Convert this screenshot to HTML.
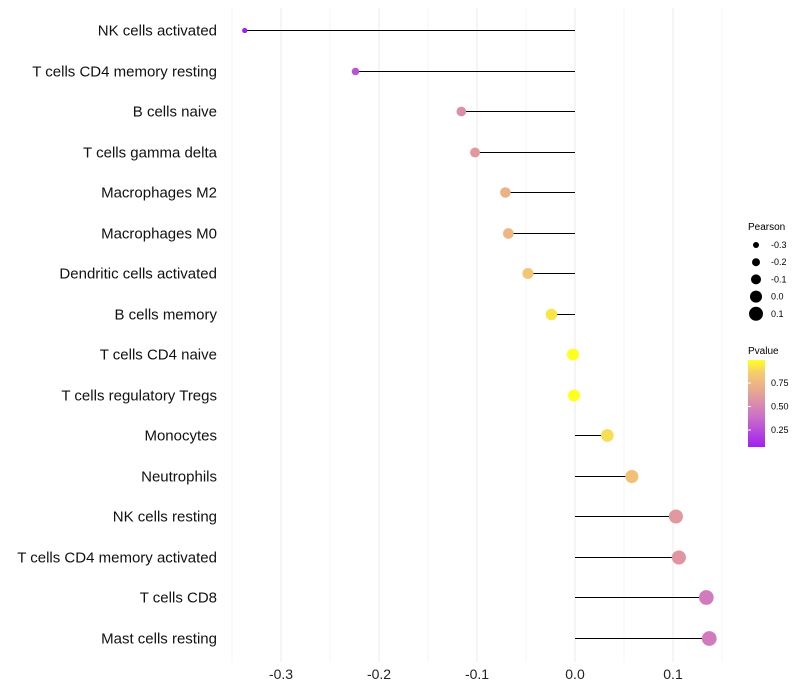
<!DOCTYPE html>
<html><head><meta charset="utf-8"><style>
body{margin:0;background:#fff;}
svg{display:block;font-family:"Liberation Sans",sans-serif;}
</style></head><body>
<svg id="c" width="800" height="700">
<defs><linearGradient id="pg" x1="0" y1="1" x2="0" y2="0">
<stop offset="0" stop-color="#A020F0"/><stop offset="0.35" stop-color="#CC70C8"/><stop offset="0.65" stop-color="#E8A890"/><stop offset="0.85" stop-color="#F5CC70"/><stop offset="1" stop-color="#FFFF20"/></linearGradient></defs>
<g id="grid"></g><g id="marks"></g><g id="axis"></g>
<g font-size="9">
<text x="748" y="230" font-size="10">Pearson</text>
<g id="sizeleg"></g>
</g>
<g font-size="9">
<text x="748" y="354" font-size="10">Pvalue</text>
<rect x="748" y="360" width="17" height="87" fill="url(#pg)"/>
<g id="colleg"></g>
</g>
</svg>
<script>
const categories=["NK cells activated","T cells CD4 memory resting","B cells naive","T cells gamma delta","Macrophages M2","Macrophages M0","Dendritic cells activated","B cells memory","T cells CD4 naive","T cells regulatory  Tregs ","Monocytes","Neutrophils","NK cells resting","T cells CD4 memory activated","T cells CD8","Mast cells resting"];
const pearson=[-0.337,-0.224,-0.116,-0.102,-0.071,-0.068,-0.048,-0.024,-0.002,-0.001,0.033,0.058,0.103,0.106,0.134,0.137];
const pvalue=[0.05,0.28,0.55,0.6,0.72,0.74,0.82,0.92,0.99,0.99,0.9,0.8,0.6,0.58,0.45,0.45];
const xTicks=[-0.3,-0.2,-0.1,0.0,0.1];
const xTickLabels=["-0.3","-0.2","-0.1","0.0","0.1"];
const sizeLegend=[-0.3,-0.2,-0.1,0.0,0.1];
const sizeLegendLabels=["-0.3","-0.2","-0.1","0.0","0.1"];
const colorLegend=[0.25,0.5,0.75];
const colorLegendLabels=["0.25","0.50","0.75"];
const NS="http://www.w3.org/2000/svg";
const x=v=>575+v*980;
const y=i=>Math.round(30+i*40.5)+0.5;
const r=v=>Math.max(2,3+(v+0.3)*10);
const stops=[[0,[160,32,240]],[0.35,[204,112,200]],[0.65,[232,168,144]],[0.85,[245,204,112]],[1,[255,255,32]]];
function col(p){const t=(p-0.08)/(0.99-0.08);const tt=Math.max(0,Math.min(1,t));
for(let k=1;k<stops.length;k++){if(tt<=stops[k][0]){const a=stops[k-1],b=stops[k];const f=(tt-a[0])/(b[0]-a[0]);
return 'rgb('+a[1].map((c,j)=>Math.round(c+(b[1][j]-c)*f)).join(',')+')';}}return 'rgb(255,255,32)';}
function mk(tag,at,parent){const e=document.createElementNS(NS,tag);for(const k in at)e.setAttribute(k,at[k]);document.getElementById(parent).appendChild(e);return e;}
for(let v=-0.35;v<=0.151;v+=0.05){const major=Math.abs(Math.round(v*20)%2)===0;
const g=mk('line',{x1:x(v),x2:x(v),y1:8,y2:662,stroke:major?'#ebebeb':'#f5f5f5','stroke-width':1},'grid');

}
xTicks.forEach((v,i)=>{const t=mk('text',{x:x(v),y:679,'text-anchor':'middle','font-size':14,fill:'#222'},'axis');t.textContent=xTickLabels[i];

});
categories.forEach((c,i)=>{const t=mk('text',{x:217,y:y(i)+5,'text-anchor':'end','font-size':15,fill:'#111'},'axis');t.textContent=c;


const l=mk('line',{x1:x(0),x2:x(pearson[i]),y1:y(i),y2:y(i),stroke:'#000','stroke-width':1},'marks');


const d=mk('circle',{cx:x(pearson[i]),cy:y(i),r:r(pearson[i]),fill:col(pvalue[i])},'marks');

});
sizeLegend.forEach((v,i)=>{const cy=245+i*17.2;
const d=mk('circle',{cx:756,cy:cy,r:r(v),fill:'#000'},'sizeleg');


const t=mk('text',{x:771,y:cy+3,'font-size':9},'sizeleg');t.textContent=sizeLegendLabels[i];

});
colorLegend.forEach((p,i)=>{const cy=383+(0.75-p)*94;
const tk=mk('line',{x1:748,x2:751,y1:cy,y2:cy,stroke:'#fff'},'colleg');


const t=mk('text',{x:771,y:cy+3,'font-size':9},'colleg');t.textContent=colorLegendLabels[i];

});
</script>
</body></html>
